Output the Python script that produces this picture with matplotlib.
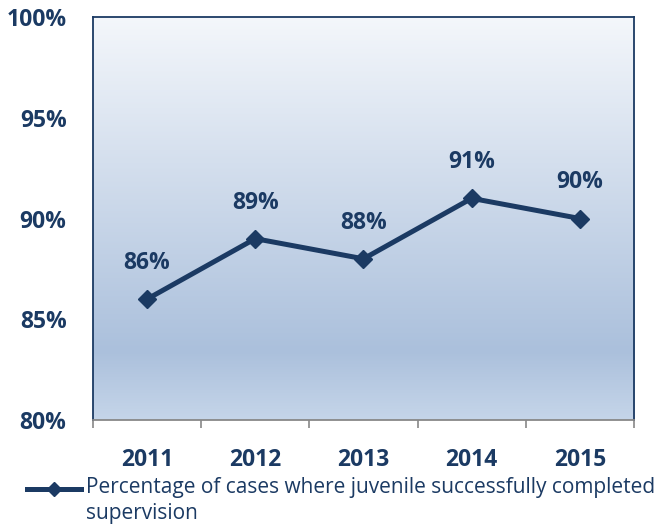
import matplotlib.pyplot as plt
import numpy as np
from matplotlib.colors import LinearSegmentedColormap
from matplotlib.lines import Line2D

years = ['2011', '2012', '2013', '2014', '2015']
rates = [86, 89, 88, 91, 90]
y_ticks = [80, 85, 90, 95, 100]
series_name = 'Percentage of cases where juvenile successfully completed\nsupervision'

navy = '#1b3a63'
plt.rcParams['font.family'] = ['Open Sans', 'DejaVu Sans']

fig = plt.figure(figsize=(6.58, 5.29), dpi=100)
ax = fig.add_axes([0.1413, 0.206, 0.8222, 0.7619])

# gradient background
cmap = LinearSegmentedColormap.from_list('bg', [(0, '#c5d5e9'), (0.17, '#abc0dc'), (1, '#f4f7fb')])
grad = np.linspace(0, 1, 256).reshape(-1, 1)
ax.imshow(grad, cmap=cmap, aspect='auto', extent=[-0.5, 4.5, 80, 100],
          origin='lower', zorder=0)

x = np.arange(len(years))
ax.plot(x, rates, color=navy, lw=3.6, marker='D', markersize=9, zorder=3)
for xi, r in zip(x, rates):
    ax.annotate(f'{r}%', (xi, r), xytext=(0, 26), textcoords='offset points',
                ha='center', va='center', fontsize=16.5, fontweight='bold', color=navy)

ax.set_xlim(-0.5, 4.5)
ax.set_ylim(80, 100)
ax.set_yticks(y_ticks)
ax.set_yticklabels([f'{t}%' for t in y_ticks])
ax.set_xticks(x)
ax.set_xticklabels(years)
ax.set_xticks(np.arange(-0.5, 5, 1), minor=True)
ax.tick_params(axis='y', length=0, pad=19, labelsize=16.5, labelcolor=navy)
ax.tick_params(axis='x', which='major', length=0, pad=20, labelsize=16.5, labelcolor=navy)
ax.tick_params(axis='x', which='minor', length=6, color='#888888', width=1.2)
for lab in ax.get_xticklabels() + ax.get_yticklabels():
    lab.set_fontweight('bold')
for s in ['left', 'top', 'right']:
    ax.spines[s].set_color(navy)
    ax.spines[s].set_linewidth(1.3)
ax.spines['bottom'].set_color('#888888')
ax.spines['bottom'].set_linewidth(1.3)

# legend
ly = 1 - 489 / 529
fig.add_artist(Line2D([27 / 658, 81 / 658], [ly, ly], color=navy, lw=3.6))
fig.add_artist(Line2D([54 / 658], [ly], color=navy, marker='D', markersize=7))
fig.text(86 / 658, 1 - 477 / 529, series_name, fontsize=15, color=navy,
         va='top', ha='left', linespacing=1.3)

fig.savefig('out.png', dpi=100)
